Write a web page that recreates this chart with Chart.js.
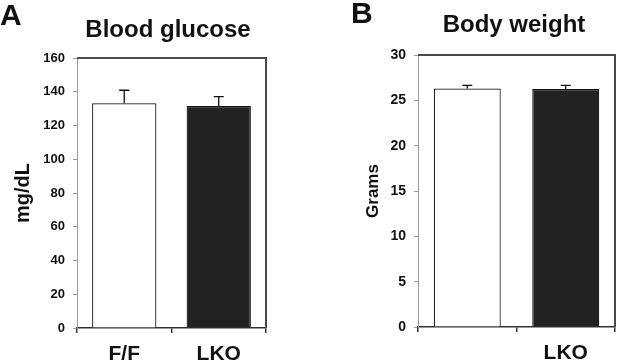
<!DOCTYPE html>
<html>
<head>
<meta charset="utf-8">
<script src="https://cdn.jsdelivr.net/npm/chart.js@4.4.1/dist/chart.umd.min.js"></script>
<style>
  html, body { margin: 0; padding: 0; background: #fff; }
  #wrap { position: relative; width: 617px; height: 363px; overflow: hidden; }
  .panel { position: absolute; top: 0; height: 363px; }
  #panel-a { left: 0; width: 300px; }
  #panel-b { left: 310px; width: 307px; }
</style>
</head>
<body>
<div id="wrap">
  <div class="panel" id="panel-a"><canvas id="chart-a"></canvas></div>
  <div class="panel" id="panel-b"><canvas id="chart-b"></canvas></div>
</div>
<script>
const groups = ["F/F", "LKO"];

const glucoseMeans = [133.2, 131.5];
const glucoseErrors = [7.7, 5.6];
const glucoseTicks = [0, 20, 40, 60, 80, 100, 120, 140, 160];

const weightMeans = [26.3, 26.25];
const weightErrors = [0.35, 0.4];
const weightTicks = [0, 5, 10, 15, 20, 25, 30];
const weightTickLabels = ["", "LKO"];

const FONT = "Arial, 'Liberation Sans', sans-serif";
const INK = "#111111";

// error bars (upper half only) + panel letter, title and the dark frame on top/right
const panelPlugin = {
  id: "panelText",
  afterDatasetsDraw(chart, args, opts) {
    const ctx = chart.ctx;
    const yScale = chart.scales.y;
    const meta = chart.getDatasetMeta(0);
    const values = chart.data.datasets[0].data;
    ctx.save();
    ctx.strokeStyle = INK;
    ctx.lineWidth = 1.3;
    meta.data.forEach((bar, i) => {
      const top = yScale.getPixelForValue(values[i] + opts.errors[i]);
      ctx.beginPath();
      ctx.moveTo(bar.x, bar.y);
      ctx.lineTo(bar.x, top);
      ctx.moveTo(bar.x - 5, top);
      ctx.lineTo(bar.x + 5, top);
      ctx.stroke();
    });
    ctx.restore();
  },
  afterDraw(chart, args, opts) {
    const ctx = chart.ctx;
    const area = chart.chartArea;
    ctx.save();
    ctx.strokeStyle = "#4a4a4a";
    ctx.lineWidth = 2;
    ctx.beginPath();
    ctx.moveTo(area.left, area.top);
    ctx.lineTo(area.right, area.top);
    ctx.lineTo(area.right, area.bottom);
    ctx.stroke();

    ctx.fillStyle = INK;
    ctx.textBaseline = "alphabetic";
    ctx.font = "bold 30px " + FONT;
    ctx.textAlign = "left";
    ctx.fillText(opts.letter, opts.letterX, opts.letterY);
    ctx.font = "bold 24px " + FONT;
    ctx.textAlign = "center";
    ctx.fillText(opts.title, opts.titleX, opts.titleY);
    ctx.restore();
  },
};

function makeChart(canvasId, cfg) {
  const ctx = document.getElementById(canvasId).getContext("2d");
  return new Chart(ctx, {
    type: "bar",
    data: {
      labels: groups,
      datasets: [
        {
          data: cfg.means,
          backgroundColor: ["#ffffff", "#222222"],
          borderColor: INK,
          borderWidth: 1.2,
          barPercentage: 0.68,
          categoryPercentage: 1,
        },
      ],
    },
    options: {
      responsive: true,
      maintainAspectRatio: false,
      animation: false,
      layout: {
        padding: { top: cfg.top, right: cfg.right, left: 0, bottom: 0 },
      },
      scales: {
        x: {
          grid: {
            display: true,
            drawOnChartArea: false,
            drawTicks: true,
            tickLength: 5,
            color: "#333333",
            lineWidth: 1.5,
          },
          border: { color: "#333333", width: 1.5 },
          ticks: {
            color: INK,
            font: { family: FONT, size: 21, weight: "bold" },
            padding: 9,
            maxRotation: 0,
            callback: cfg.xLabel,
          },
          afterFit(scale) {
            scale.height = cfg.xHeight;
          },
        },
        y: {
          min: 0,
          max: cfg.ticks[cfg.ticks.length - 1],
          afterBuildTicks(scale) {
            scale.ticks = cfg.ticks.map((v) => ({ value: v }));
          },
          grid: {
            drawOnChartArea: false,
            drawTicks: true,
            tickLength: 4,
            color: "#9a9a9a",
          },
          border: { color: "#9a9a9a", width: 1 },
          ticks: {
            color: INK,
            font: { family: FONT, size: cfg.tickSize, weight: "bold" },
            padding: 8,
          },
          title: {
            display: true,
            text: cfg.yTitle,
            color: INK,
            font: { family: FONT, size: cfg.yTitleSize, weight: "bold" },
            padding: { top: cfg.yTitlePad, bottom: 0 },
          },
          afterFit(scale) {
            scale.width = cfg.yWidth;
          },
        },
      },
      plugins: {
        legend: { display: false },
        tooltip: { enabled: false },
        panelText: {
          letter: cfg.letter,
          letterX: cfg.letterX,
          letterY: cfg.letterY,
          title: cfg.title,
          titleX: cfg.titleX,
          titleY: cfg.titleY,
          errors: cfg.errors,
        },
      },
    },
    plugins: [panelPlugin],
  });
}

makeChart("chart-a", {
  means: glucoseMeans,
  errors: glucoseErrors,
  ticks: glucoseTicks,
  xLabel: (value, index) => groups[index],
  yTitle: "mg/dL",
  yTitleSize: 20,
  yTitlePad: 11,
  tickSize: 13,
  yWidth: 77,
  top: 58,
  right: 34,
  xHeight: 35,
  letter: "A",
  letterX: 0,
  letterY: 25,
  title: "Blood glucose",
  titleX: 168,
  titleY: 37,
});

makeChart("chart-b", {
  means: weightMeans,
  errors: weightErrors,
  ticks: weightTicks,
  xLabel: (value, index) => weightTickLabels[index],
  yTitle: "Grams",
  yTitleSize: 17,
  yTitlePad: 53,
  tickSize: 14,
  yWidth: 108,
  top: 55,
  right: 2,
  xHeight: 36,
  letter: "B",
  letterX: 41,
  letterY: 23,
  title: "Body weight",
  titleX: 204,
  titleY: 32,
});
</script>
</body>
</html>
